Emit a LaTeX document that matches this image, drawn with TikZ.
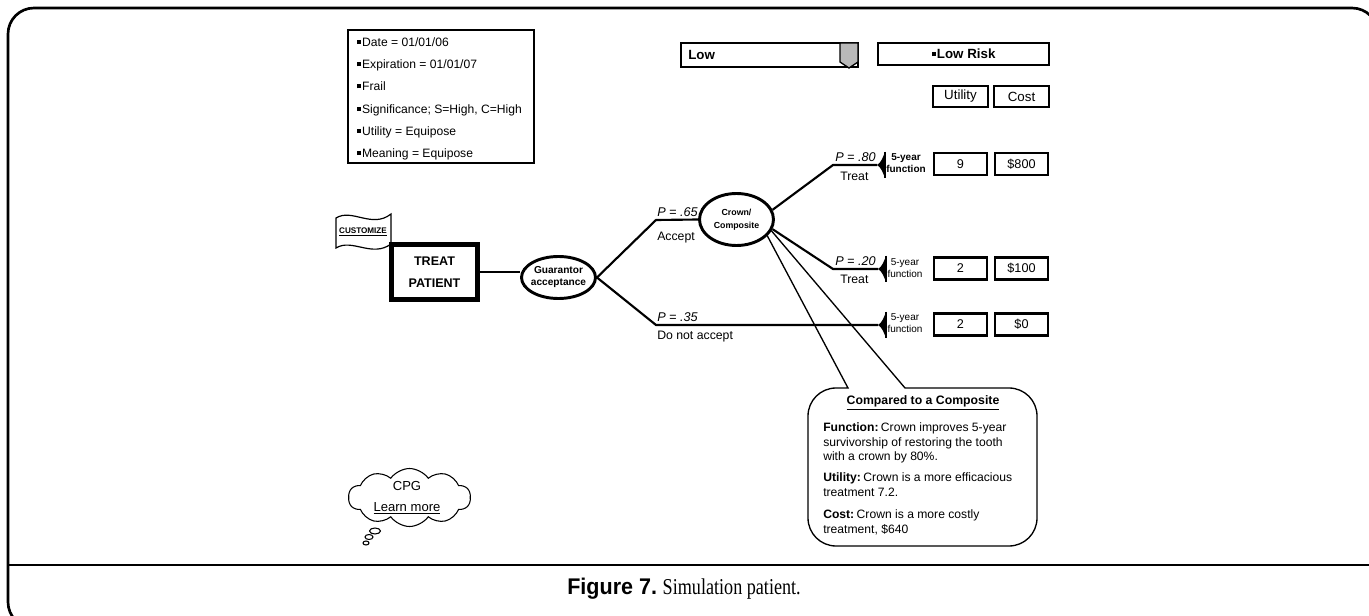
\documentclass[tikz,border=0pt]{standalone}
\usepackage{graphicx}
\usepackage{fontspec}
\setmainfont{Liberation Sans}
\newfontfamily\capserif{Liberation Serif}
\usetikzlibrary{shapes.geometric,shapes.symbols}

\def\pxu{0.75pt}
\newcommand\setfs[2]{\fontsize{#1}{#2}\selectfont}
\newcommand\sqb{\rule[0.2em]{0.34em}{0.34em}\hspace{0.06em}}

\begin{document}
\begin{tikzpicture}[x=0.75pt,y=-0.75pt,
  every node/.style={inner sep=0pt},
  outerframe/.style={line width=2pt},
  infobox/.style={draw,line width=1.5pt},
  hdrbox/.style={draw,line width=1.5pt},
  valbox/.style={draw,line width=2pt,minimum width=53*\pxu,minimum height=22*\pxu,font=\setfs{9.5}{11}},
  branch/.style={line width=1.6pt},
  chance/.style={ellipse,draw,line width=2.2pt,align=center},
  plab/.style={font=\setfs{9.5}{11}\itshape,anchor=west},
  blab/.style={font=\setfs{9.2}{11},anchor=west},
  fnlab/.style={font=\setfs{7.5}{9.3},align=center},
  ptr/.style={line width=1pt},
  termmark/.pic={\fill (0,0) .. controls (4,-2) and (6,-8) .. (8,-13) -- (8,13) .. controls (6,8) and (4,2) .. (0,0) -- cycle;
                 \draw[line width=1pt] (8,-13) -- (8,13);},
]
\useasboundingbox (0,0) rectangle (1369,616);

% page frame and caption rule
\begin{scope}
  \clip (0,0) rectangle (1369,616);
  \draw[outerframe,rounded corners=26*\pxu] (8,8) rectangle (1378,628);
  \draw[line width=2.2pt] (8,565) -- (1369,565);
\end{scope}
\node[font=\setfs{17}{20}] (cap) at (684,589) {\scalebox{0.95}[1]{\bfseries Figure 7.}\hspace{0.25em}\scalebox{0.8}[1]{\capserif Simulation patient.}};

% patient information box
\node[infobox,minimum width=186*\pxu,minimum height=133*\pxu] (info) at (441,96.5) {};
\foreach \t [count=\i from 0] in {Date = 01/01/06, Expiration = 01/01/07, Frail, {Significance; S=High, C=High}, Utility = Equipose, Meaning = Equipose}
  \node[anchor=base west,font=\setfs{9.1}{11}] (info\i) at (357,46.5+22.2*\i) {\sqb\t};

% risk selector
\node[hdrbox,minimum width=177*\pxu,minimum height=24*\pxu] (low) at (769.5,55) {};
\node[anchor=west,font=\setfs{10}{12}\bfseries] (lowtxt) at (688,55) {Low};
\draw[fill=gray!55,line width=1pt] (840,43) -- (858,43) -- (858,62) -- (849,68) -- (840,62) -- cycle;
\node[hdrbox,minimum width=171*\pxu,minimum height=22*\pxu,font=\setfs{10}{12}\bfseries] (risk) at (963.5,54) {\sqb Low Risk};
\node[hdrbox,minimum width=55*\pxu,minimum height=21*\pxu,font=\setfs{10}{12}] (util) at (960.5,96.5) {Utility};
\node[hdrbox,minimum width=55*\pxu,minimum height=21*\pxu,font=\setfs{10}{12}] (cost) at (1021.5,96.5) {Cost};

% outcome values
\node[valbox] (u80) at (960.5,164) {9};
\node[valbox] (c80) at (1021.5,164) {\$800};
\node[valbox] (u20) at (960.5,268.5) {2};
\node[valbox] (c20) at (1021.5,268.5) {\$100};
\node[valbox] (u35) at (960.5,324.5) {2};
\node[valbox] (c35) at (1021.5,324.5) {\$0};

% customize flag
\draw[line width=0.9pt,fill=white] (336,218) .. controls (352,208) and (372,229) .. (391,214) -- (391,244) .. controls (372,258) and (352,238) .. (336,248) -- cycle;
\node[font=\setfs{6.1}{7}\bfseries] (cust) at (363,232) {\underline{CUSTOMIZE}};

% decision and chance nodes
\node[draw,line width=3.75pt,minimum width=86*\pxu,minimum height=55*\pxu,font=\setfs{9.4}{16.5}\bfseries,align=center] (tp) at (434.5,272) {TREAT\\PATIENT};
\node[chance,minimum width=74*\pxu,minimum height=42*\pxu,font=\setfs{7.6}{9}\bfseries] (guar) at (558.5,277.5) {\makebox[0pt]{Guarantor}\\\makebox[0pt]{acceptance}};
\node[chance,minimum width=74*\pxu,minimum height=52*\pxu,font=\setfs{6.6}{9.75}\bfseries] (crown) at (736.5,219.5) {\makebox[0pt]{Crown/}\\\makebox[0pt]{Composite}};

% branch corners and terminal points
\coordinate (k65) at (656,220);
\coordinate (k35) at (656,325);
\coordinate (k80) at (833,165);
\coordinate (k20) at (833,269);
\coordinate (t80) at (877,165);
\coordinate (t20) at (878,269);
\coordinate (t35) at (878,325);

\draw[branch] (tp.east) -- (tp.east -| guar.west);
\draw[branch] (guar.east) -- (k65) -- (crown.west);
\draw[branch] (guar.east) -- (k35) -- (t35);
\draw[branch] (crown.15) -- (k80) -- (t80);
\draw[branch] (crown.-15) -- (k20) -- (t20);
\pic at (t80) {termmark};
\pic at (t20) {termmark};
\pic at (t35) {termmark};

% branch labels
\node[plab] (p65) at (657,212) {P = .65};
\node[blab] (acc) at (657,238) {Accept};
\node[plab] (p35) at (657,317) {P = .35};
\node[blab] (dna) at (657,337) {Do not accept};
\node[plab] (p80) at (835,157) {P = .80};
\node[blab] (tr80) at (840,176) {Treat};
\node[plab] (p20) at (835,261) {P = .20};
\node[blab] (tr20) at (840,279) {Treat};
\node[fnlab,font=\setfs{7.5}{9.3}\bfseries] (f80) at (906,163) {5-year\\function};
\node[fnlab] (f20) at (905,268) {5-year\\function};
\node[fnlab] (f35) at (905,323) {5-year\\function};

% comparison callout
\draw[ptr] (crown.-18) -- (905,388) -- (1009,388) arc[start angle=-90,end angle=0,radius=28]
  -- (1037,518) arc[start angle=0,end angle=90,radius=28]
  -- (836,546) arc[start angle=90,end angle=180,radius=28]
  -- (808,416) arc[start angle=180,end angle=270,radius=28]
  -- (848,388) -- (crown.-28);
\node[font=\setfs{9.2}{11}\bfseries] (cmpt) at (923,403) {\underline{Compared to a Composite}};
\node[anchor=north west,align=left,font=\setfs{9.1}{10.9}] (cfun) at (823,422.5) {\textbf{Function:}\hspace{0.2em}Crown improves 5-year\\survivorship of restoring the tooth\\with a crown by 80\%.};
\node[anchor=north west,align=left,font=\setfs{9.1}{10.9}] (cutil) at (823,472.5) {\textbf{Utility:}\hspace{0.2em}Crown is a more efficacious\\treatment 7.2.};
\node[anchor=north west,align=left,font=\setfs{9.1}{10.9}] (ccost) at (823,509.5) {\textbf{Cost:}\hspace{0.2em}Crown is a more costly\\treatment, \$640};

% guideline thought cloud
\node[cloud,draw,cloud puffs=10,cloud puff arc=110,aspect=2,minimum width=122*\pxu,minimum height=58*\pxu,line width=0.8pt] (cloud) at (409.5,497.5) {};
\node[font=\setfs{9.8}{15.75},align=center] (cpg) at (407,497.5) {CPG\\\underline{Learn more}};
\node[ellipse,draw,line width=0.8pt,minimum width=11*\pxu,minimum height=6*\pxu] (b1) at (375,531) {};
\node[ellipse,draw,line width=0.8pt,minimum width=8*\pxu,minimum height=5*\pxu] (b2) at (369,537) {};
\node[ellipse,draw,line width=0.8pt,minimum width=6*\pxu,minimum height=4*\pxu] (b3) at (366,543) {};
\end{tikzpicture}
\end{document}
